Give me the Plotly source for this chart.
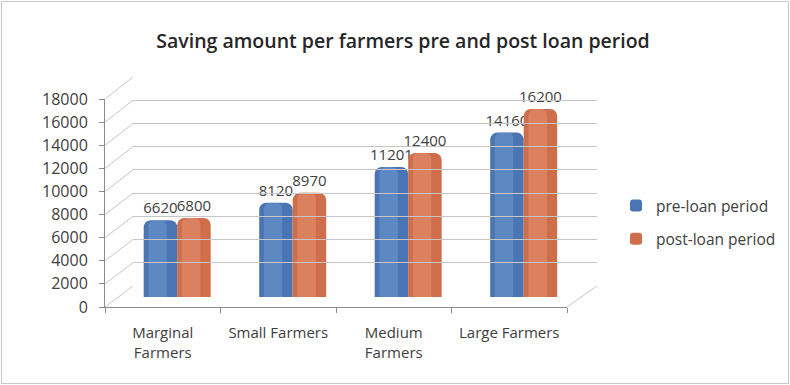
import plotly.graph_objects as go

categories = ["Marginal<br>Farmers", "Small Farmers", "Medium<br>Farmers", "Large Farmers"]
pre_loan = [6620, 8120, 11201, 14160]
post_loan = [6800, 8970, 12400, 16200]
series_names = ["pre-loan period", "post-loan period"]
y_ticks = list(range(0, 18001, 2000))

W, H = 790, 385
ML, MR, MT, MB = 105, 193, 70, 75
PW = W - ML - MR
PH = H - MT - MB


def fy(px):
    return (H - MB - px) / PH


def fx(px):
    return (px - ML) / PW


front_dom = [fy(307), fy(99)]
bar_dom = [fy(297), fy(88)]
back_dom = [fy(286), fy(77)]
dx = fx(133)

font = "Open Sans"
txt = "#404040"
grid = "#c6c6c6"

fig = go.Figure()

# invisible traces so that the front axis and back wall axes are drawn
fig.add_trace(go.Bar(x=categories, y=pre_loan, xaxis="x", yaxis="y", showlegend=False,
                     marker=dict(opacity=0), hoverinfo="skip"))
fig.add_trace(go.Scatter(x=[], y=[], xaxis="x2", yaxis="y3", showlegend=False,
                         hoverinfo="skip"))

styles = [
    dict(base="#4a75b2", hi="#6f98cf", off=-0.165, name=series_names[0], vals=pre_loan),
    dict(base="#cf6e4b", hi="#e89272", off=0.125, name=series_names[1], vals=post_loan),
]
bw = 0.29
for i, s in enumerate(styles):
    fig.add_trace(go.Bar(
        x=categories, y=s["vals"], name=s["name"], xaxis="x", yaxis="y2",
        marker=dict(color=s["base"], line=dict(width=0), cornerradius=7),
        width=bw, offset=s["off"], legendgroup=s["name"],
        text=[str(v) for v in s["vals"]], textposition="outside",
        textfont=dict(family=font, size=15, color=txt),
        cliponaxis=False, constraintext="none",
    ))
    fig.add_trace(go.Bar(
        x=categories, y=s["vals"], xaxis="x", yaxis="y2", showlegend=False,
        marker=dict(color=s["hi"], line=dict(width=0), cornerradius=6, opacity=0.55),
        width=bw * 0.55, offset=s["off"] + bw * 0.14, hoverinfo="skip",
    ))

shapes = []
# diagonal connectors from front axis ticks to back wall
for v in y_ticks:
    y0 = front_dom[0] + v / 18000 * (front_dom[1] - front_dom[0])
    y1 = back_dom[0] + v / 18000 * (back_dom[1] - back_dom[0])
    shapes.append(dict(type="line", xref="paper", yref="paper", x0=0, y0=y0, x1=dx, y1=y1,
                       line=dict(color=grid, width=1), layer="below"))
# floor right edge
shapes.append(dict(type="line", xref="paper", yref="paper", x0=fx(567), y0=front_dom[0],
                   x1=1, y1=back_dom[0], line=dict(color=grid, width=1), layer="below"))
# chart border
shapes.append(dict(type="rect", xref="paper", yref="paper", x0=fx(1.5), x1=fx(788.5),
                   y0=fy(383.5), y1=fy(1.5), line=dict(color="#c8c8c8", width=1), layer="below"))

fig.update_layout(
    width=W, height=H,
    margin=dict(l=ML, r=MR, t=MT, b=MB, autoexpand=False),
    paper_bgcolor="white", plot_bgcolor="rgba(0,0,0,0)",
    barmode="overlay",
    title=dict(text="Saving amount per farmers pre and post loan period",
               x=403 / W, xanchor="center", y=1 - 41 / H, yanchor="middle",
               font=dict(family=font, size=19.5, color="#262626", weight=600)),
    font=dict(family=font, color=txt),
    xaxis=dict(domain=[0, fx(567)], anchor="y", type="category",
               showline=True, linecolor="#8c8c8c", tickson="boundaries",
               ticks="outside", ticklen=5, tickcolor="#8c8c8c",
               tickfont=dict(family=font, size=15, color=txt), ticklabelstandoff=12,
               showgrid=False, fixedrange=True),
    yaxis=dict(domain=front_dom, anchor="x", range=[0, 18000], tickvals=y_ticks,
               tickformat="d",
               showline=True, linecolor="#8c8c8c", ticks="outside", ticklen=5,
               tickcolor="#8c8c8c", showgrid=False, zeroline=False,
               tickfont=dict(family=font, size=16, color=txt), ticklabelstandoff=8),
    yaxis2=dict(domain=bar_dom, anchor="x", range=[0, 18000], visible=False,
                showgrid=False, zeroline=False),
    xaxis2=dict(domain=[dx, 1], anchor="y3", range=[0, 1], visible=False, showgrid=False),
    yaxis3=dict(domain=back_dom, anchor="x2", range=[0, 18000], tickvals=y_ticks,
                showgrid=True, gridcolor=grid, gridwidth=1, zeroline=False,
                showticklabels=False, ticks="", showline=False),
    legend=dict(x=fx(616), xanchor="left", y=fy(189), yanchor="top",
                font=dict(family=font, size=15.5, color=txt), bgcolor="rgba(0,0,0,0)",
                tracegroupgap=10, itemwidth=30),
    shapes=shapes,
    showlegend=True,
)

fig.write_html("out.html")
